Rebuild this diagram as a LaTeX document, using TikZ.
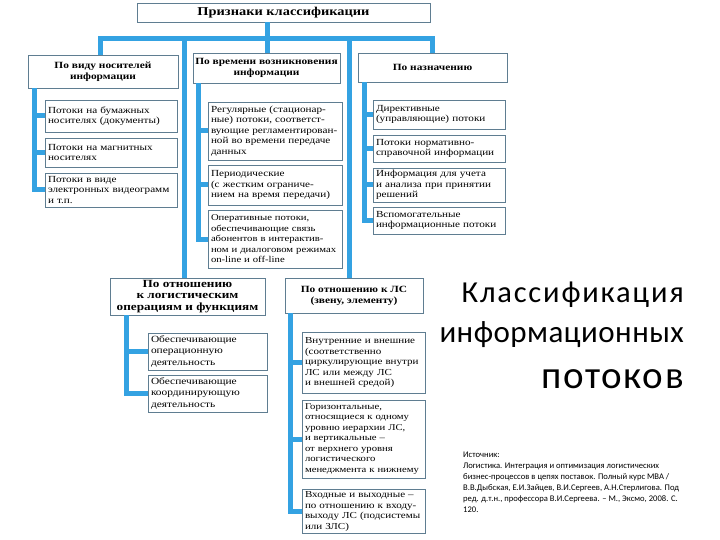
\documentclass[tikz,border=0pt]{standalone}
\usepackage{fontspec}
\setmainfont{Liberation Serif}[FakeStretch=1.2]
\newfontfamily\carlito{Carlito}
\definecolor{connc}{RGB}{52,162,226}
\definecolor{bord}{RGB}{95,125,145}
\tikzset{
  box/.style={draw=bord, line width=0.7pt, fill=white, inner xsep=3pt, inner ysep=2pt, align=left, font=\fontsize{9.3}{10.5}\selectfont},
  head/.style={draw=bord, line width=0.9pt, fill=white, align=center, inner sep=2pt, font=\bfseries\fontsize{9.5}{11}\selectfont},
  conn/.style={draw=connc, line width=5pt},
  big/.style={anchor=base east, inner sep=0pt}
}
\begin{document}
\begin{tikzpicture}[x=1pt,y=-1pt]
\useasboundingbox (0,0) rectangle (720,540);
% top
\node[head, minimum width=293pt, minimum height=19pt, font=\bfseries\fontsize{12}{13}\selectfont] (top) at (283.5,12.5) {Признаки классификации};
% headers
\node[head, minimum width=150pt, minimum height=33pt] (h1) at (103,71.5) {По виду носителей\\информации};
\node[head, minimum width=147pt, minimum height=30pt] (h2) at (266.5,68) {По времени возникновения\\информации};
\node[head, minimum width=149pt, minimum height=29pt] (h3) at (432.5,67.5) {По назначению};
\node[head, minimum width=155pt, minimum height=37pt, font=\bfseries\fontsize{11}{11.5}\selectfont] (h4) at (187.5,296.5) {По отношению\\к логистическим\\операциям и функциям};
\node[head, minimum width=138pt, minimum height=35pt] (h5) at (354,295.5) {По отношению к ЛС\\(звену, элементу)};
% column 1
\node[box, text width=126pt, minimum height=32pt] (a1) at (111,116) {Потоки на бумажных\\носителях (документы)};
\node[box, text width=126pt, minimum height=29pt] (a2) at (111,152.5) {Потоки на магнитных\\носителях};
\node[box, text width=126pt, minimum height=34pt] (a3) at (111,190) {Потоки в виде\\электронных видеограмм\\и т.п.};
% column 2
\node[box, text width=128pt, minimum height=58pt] (b1) at (275,131) {Регулярные (стационар-\\ные) потоки, соответст-\\вующие регламентирован-\\ной во времени передаче\\данных};
\node[box, text width=128pt, minimum height=40pt] (b2) at (275,185) {Периодические\\(с жестким ограниче-\\нием на время передачи)};
\node[box, text width=128pt, minimum height=58pt, font=\fontsize{8.9}{10.5}\selectfont] (b3) at (275,239) {Оперативные потоки,\\обеспечивающие связь\\абонентов в интерактив-\\ном~и~диалоговом~режимах\\on-line и off-line};
% column 3
\node[box, text width=126pt, minimum height=29pt] (c1) at (439,114.5) {Директивные\\(управляющие) потоки};
\node[box, text width=126pt, minimum height=27pt] (c2) at (439,148.5) {Потоки нормативно-\\справочной информации};
\node[box, text width=126pt, minimum height=34pt] (c3) at (439,185) {Информация для учета\\и анализа при принятии\\решений};
\node[box, text width=126pt, minimum height=27pt] (c4) at (439,220.5) {Вспомогательные\\информационные потоки};
% column 4
\node[box, text width=113pt, minimum height=37pt, font=\fontsize{9.5}{11.5}\selectfont] (d1) at (207.5,351.5) {Обеспечивающие\\операционную\\деятельность};
\node[box, text width=113pt, minimum height=37pt, font=\fontsize{9.5}{11.5}\selectfont] (d2) at (207.5,393.5) {Обеспечивающие\\координирующую\\деятельность};
% column 5
\node[box, text width=117pt, minimum height=61pt, font=\fontsize{9.2}{10.5}\selectfont] (e1) at (363.5,362.5) {Внутренние и внешние\\(соответственно\\циркулирующие внутри\\ЛС или между ЛС\\и внешней средой)};
\node[box, text width=117pt, minimum height=78pt, font=\fontsize{8.9}{10.5}\selectfont] (e2) at (363.5,439) {Горизонтальные,\\относящиеся к одному\\уровню иерархии ЛС,\\и вертикальные –\\от верхнего уровня\\логистического\\менеджмента~к~нижнему};
\node[box, text width=117pt, minimum height=43pt, font=\fontsize{9.2}{10.5}\selectfont] (e3) at (363.5,511.5) {Входные и выходные –\\по отношению к входу-\\выходу ЛС (подсистемы\\или ЗЛС)};
% connectors
\coordinate (bL) at (100,39);
\coordinate (bR) at (432,39);
\coordinate (bC) at (267,39);
\coordinate (b4) at (184,39);
\coordinate (b5) at (349,39);
\draw[conn] (h1.north -| bL) -- (bL) -- (bR) -- (h3.north -| bR);
\draw[conn] (top.south -| bC) -- (h2.north -| bC);
\draw[conn] (b4) -- (h4.north -| b4);
\draw[conn] (b5) -- (h5.north -| b5);
\coordinate (x1) at (34,0);
\coordinate (x2) at (198,0);
\coordinate (x3) at (364,0);
\coordinate (x4) at (126,0);
\coordinate (x5) at (290,0);
\draw[conn] (h1.south -| x1) -- (a3.west -| x1) -- (a3.west);
\draw[conn] (a1.west -| x1) -- (a1.west);
\draw[conn] (a2.west -| x1) -- (a2.west);
\draw[conn] (h2.south -| x2) -- (b3.west -| x2) -- (b3.west);
\draw[conn] (b1.west -| x2) -- (b1.west);
\draw[conn] (b2.west -| x2) -- (b2.west);
\draw[conn] (h3.south -| x3) -- (c4.west -| x3) -- (c4.west);
\draw[conn] (c1.west -| x3) -- (c1.west);
\draw[conn] (c2.west -| x3) -- (c2.west);
\draw[conn] (c3.west -| x3) -- (c3.west);
\draw[conn] (h4.south -| x4) -- (d2.west -| x4) -- (d2.west);
\draw[conn] (d1.west -| x4) -- (d1.west);
\draw[conn] (h5.south -| x5) -- (e3.west -| x5) -- (e3.west);
\draw[conn] (e1.west -| x5) -- (e1.west);
\draw[conn] (e2.west -| x5) -- (e2.west);
% right titles
\node[big, font=\carlito\addfontfeatures{LetterSpace=6}\fontsize{30.5}{31}\selectfont] (t1) at (684,302) {Классификация};
\node[big, font=\carlito\addfontfeatures{LetterSpace=1.5}\fontsize{31}{32}\selectfont] (t2) at (684,342) {информационных};
\node[big, font=\carlito\addfontfeatures{LetterSpace=4}\fontsize{39}{40}\selectfont] (t3) at (684,388) {потоков};
\node[anchor=north west, align=left, inner sep=0pt, font=\carlito\fontsize{8.6}{10.9}\selectfont] (src) at (463,452) {Источник:\\Логистика. Интеграция и оптимизация логистических\\бизнес-процессов в цепях поставок. Полный курс MBA /\\В.В.Дыбская, Е.И.Зайцев, В.И.Сергеев, А.Н.Стерлигова. Под\\ред. д.т.н., профессора В.И.Сергеева. – М., Эксмо, 2008. С.\\120.};
\end{tikzpicture}
\end{document}
